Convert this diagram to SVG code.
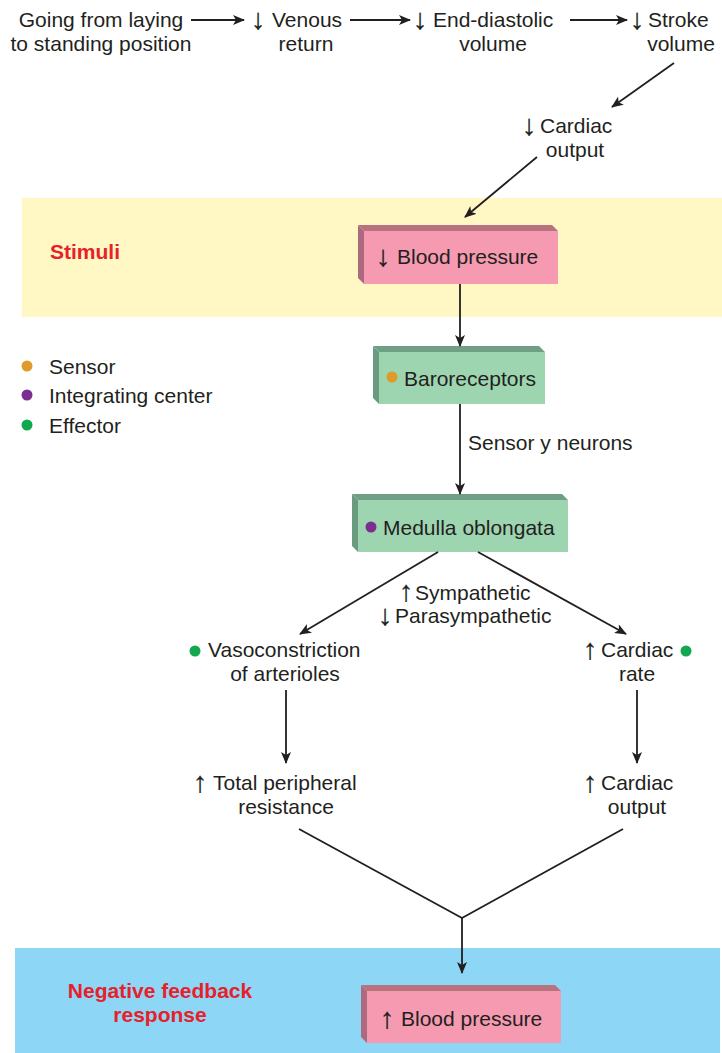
<svg xmlns="http://www.w3.org/2000/svg" width="722" height="1053" viewBox="0 0 722 1053">
<defs>
<marker id="ah" viewBox="0 0 12 10" refX="11" refY="5" markerWidth="12" markerHeight="10" markerUnits="userSpaceOnUse" orient="auto">
<path d="M0,0 L12,5 L0,10 L3,5 Z" fill="#231f20"/>
</marker>
<style>
text{font-family:"Liberation Sans",Arial,sans-serif;font-size:21px;fill:#231f20}
.c{text-anchor:middle}
.ar{text-anchor:middle;font-size:29px;stroke:#231f20;stroke-width:0.3}
.red{fill:#e8202a;font-weight:bold;font-size:21px}
.ln{stroke:#231f20;stroke-width:1.8;fill:none}
.pf{fill:#f59ab0}.pt{fill:#b9737f}.ps{fill:#ad6a7e}
.gf{fill:#9ed5b1}.gt{fill:#6f9f84}.gs{fill:#6a9b80}
</style>
</defs>
<rect x="22" y="198" width="700" height="119" fill="#fff7c4"/>
<rect x="15" y="948" width="705" height="105" fill="#8dd6f5"/>
<text class="red" x="50" y="259">Stimuli</text>
<text class="red c" x="160" y="998">Negative feedback</text>
<text class="red c" x="160" y="1022">response</text>

<g id="legend">
<circle cx="27" cy="366" r="5.5" fill="#e09a2a"/>
<circle cx="27" cy="395" r="5.5" fill="#7b2e90"/>
<circle cx="27" cy="425" r="5.5" fill="#12a850"/>
<text x="49" y="374">Sensor</text>
<text x="49" y="403">Integrating center</text>
<text x="49" y="433">Effector</text>
</g>

<g id="n-standing"><text class="c" x="101" y="27">Going from laying</text><text class="c" x="101" y="51">to standing position</text></g>
<g id="n-venous"><text class="ar" x="258" y="29">↓</text><text x="272" y="27">Venous</text><text class="c" x="306" y="51">return</text></g>
<g id="n-edv"><text class="ar" x="420" y="29">↓</text><text x="433" y="27">End-diastolic</text><text class="c" x="493" y="51">volume</text></g>
<g id="n-sv"><text class="ar" x="637" y="29">↓</text><text x="648" y="27">Stroke</text><text class="c" x="681" y="51">volume</text></g>
<g id="n-co1"><text class="ar" x="529" y="135">↓</text><text x="540" y="133">Cardiac</text><text class="c" x="575" y="157">output</text></g>

<g id="n-bp1">
<polygon class="pt" points="358,225 552,225 558,231 364,231"/>
<polygon class="ps" points="358,225 364,231 364,284 358,278"/>
<rect class="pf" x="364" y="231" width="194" height="53"/>
<text class="ar" x="383" y="266">↓</text>
<text x="397" y="264">Blood pressure</text>
</g>

<g id="n-baro">
<polygon class="gt" points="373,346 539,346 545,352 379,352"/>
<polygon class="gs" points="373,346 379,352 379,404 373,398"/>
<rect class="gf" x="379" y="352" width="166" height="52"/>
<circle cx="392" cy="377" r="5.5" fill="#e09a2a"/>
<text x="404" y="386">Baroreceptors</text>
</g>

<g id="n-medulla">
<polygon class="gt" points="352,494 562,494 568,500 358,500"/>
<polygon class="gs" points="352,494 358,500 358,552 352,546"/>
<rect class="gf" x="358" y="500" width="210" height="52"/>
<circle cx="371" cy="527" r="5.5" fill="#7b2e90"/>
<text x="383" y="535">Medulla oblongata</text>
</g>

<g id="l-symp">
<text class="ar" x="406" y="601">↑</text><text x="415" y="600">Sympathetic</text>
<text class="ar" x="385" y="625">↓</text><text x="395" y="623">Parasympathetic</text>
</g>

<g id="l-sensory"><text x="468" y="450">Sensor y neurons</text></g>

<g id="n-vaso"><circle cx="195" cy="651" r="5.5" fill="#12a850"/><text x="208" y="657">Vasoconstriction</text><text class="c" x="285" y="681">of arterioles</text></g>
<g id="n-cr"><text class="ar" x="590" y="659">↑</text><text x="601" y="657">Cardiac</text><circle cx="686" cy="651" r="5.5" fill="#12a850"/><text class="c" x="637" y="681">rate</text></g>
<g id="n-tpr"><text class="ar" x="200" y="792">↑</text><text x="213" y="790">Total peripheral</text><text class="c" x="286" y="814">resistance</text></g>
<g id="n-co2"><text class="ar" x="590" y="792">↑</text><text x="601" y="790">Cardiac</text><text class="c" x="637" y="814">output</text></g>

<g id="n-bp2">
<polygon class="pt" points="361,985 555,985 561,991 367,991"/>
<polygon class="ps" points="361,985 367,991 367,1043 361,1037"/>
<rect class="pf" x="367" y="991" width="194" height="52"/>
<text class="ar" x="387" y="1028">↑</text>
<text x="401" y="1026">Blood pressure</text>
</g>

<g id="connectors">
<line class="ln" x1="191" y1="20" x2="244" y2="20" marker-end="url(#ah)"/>
<line class="ln" x1="350" y1="20" x2="410" y2="20" marker-end="url(#ah)"/>
<line class="ln" x1="570" y1="20" x2="627" y2="20" marker-end="url(#ah)"/>
<line class="ln" x1="674" y1="63" x2="612" y2="107" marker-end="url(#ah)"/>
<line class="ln" x1="537" y1="157" x2="465" y2="217" marker-end="url(#ah)"/>
<line class="ln" x1="460" y1="284" x2="460" y2="346" marker-end="url(#ah)"/>
<line class="ln" x1="460" y1="404" x2="460" y2="494" marker-end="url(#ah)"/>
<line class="ln" x1="438" y1="552" x2="300" y2="634" marker-end="url(#ah)"/>
<line class="ln" x1="478" y1="552" x2="626" y2="634" marker-end="url(#ah)"/>
<line class="ln" x1="286" y1="690" x2="286" y2="763" marker-end="url(#ah)"/>
<line class="ln" x1="637" y1="690" x2="637" y2="763" marker-end="url(#ah)"/>
<polyline class="ln" points="299,829 462,918 623,829"/>
<line class="ln" x1="462" y1="918" x2="462" y2="973" marker-end="url(#ah)"/>
</g>
</svg>
